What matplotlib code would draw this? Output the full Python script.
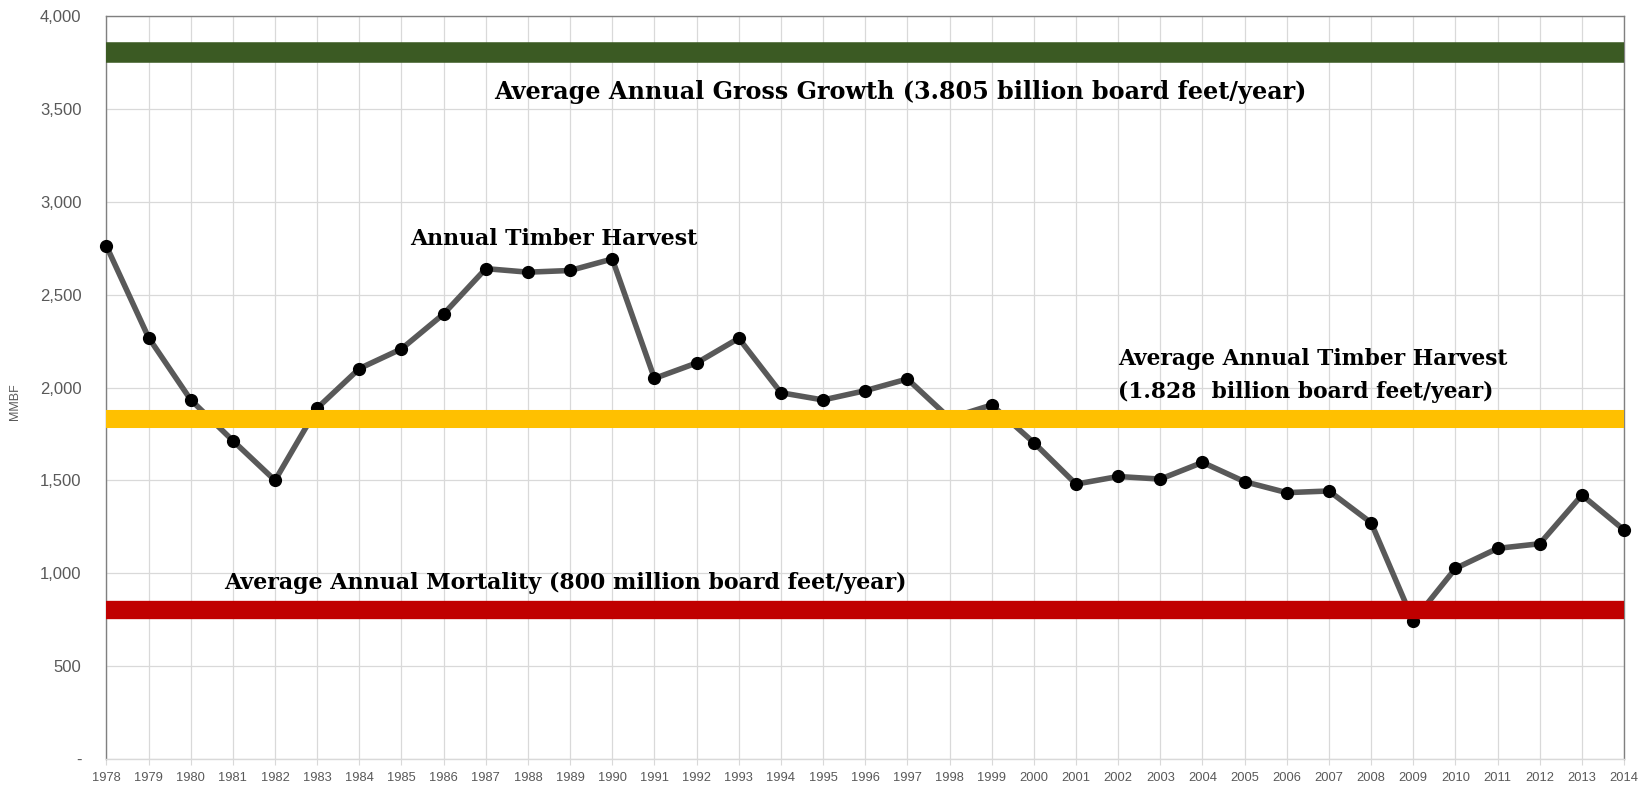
## annual timber harvest vs average growth / mortality / harvest
import numpy as np
import matplotlib
matplotlib.use('Agg')
import matplotlib.pyplot as plt

years = list(range(1978, 2015))
harvest = [2762, 2269, 1934, 1714, 1500, 1889, 2102, 2208, 2396, 2640,
           2621, 2630, 2692, 2049, 2132, 2265, 1972, 1933, 1983, 2046,
           1835, 1906, 1703, 1480, 1521, 1507, 1597, 1493, 1434, 1443,
           1272, 743, 1026, 1134, 1159, 1421, 1233]

avg_growth = 3805
avg_harvest = 1828
avg_mortality = 800

yticks = [0, 500, 1000, 1500, 2000, 2500, 3000, 3500, 4000]
ytick_labels = ['-', '500', '1,000', '1,500', '2,000', '2,500', '3,000', '3,500', '4,000']

txt_gray = '#595959'
grid_gray = '#d9d9d9'

fig = plt.figure(figsize=(16.52, 7.89), dpi=100)
ax = fig.add_axes([0.0644, 0.038, 0.9187, 0.9417])

ax.plot(years, harvest, color='#595959', lw=4, marker='o', ms=8.5,
        mfc='black', mec='black', zorder=3, clip_on=False)

# average bands sit on top of the series
ax.axhline(avg_growth, color='#3b5a23', lw=14.8, zorder=4)
ax.axhline(avg_harvest, color='#ffc000', lw=13, zorder=4)
ax.axhline(avg_mortality, color='#c00000', lw=13.2, zorder=4)

ax.set_xlim(1978, 2014)
ax.set_ylim(0, 4000)
ax.set_xticks(years)
ax.set_xticklabels([str(y) for y in years], fontsize=9.3, color=txt_gray,
                   family='Liberation Sans')
ax.set_yticks(yticks)
ax.set_yticklabels(ytick_labels, fontsize=12, color=txt_gray,
                   family='Liberation Sans')
ax.tick_params(axis='y', length=0, pad=18)
ax.tick_params(axis='x', length=4, pad=5, color=grid_gray)

ax.grid(True, color=grid_gray, lw=0.9, zorder=0)
ax.set_axisbelow(True)
for s in ['top', 'right', 'left']:
    ax.spines[s].set_color('#808080')
    ax.spines[s].set_linewidth(1)
ax.spines['bottom'].set_color(grid_gray)
ax.spines['bottom'].set_linewidth(1)

fig.text(15 / 1652, 1 - 402 / 789, 'MMBF', rotation=90, fontsize=9,
         color=txt_gray, ha='center', va='center', family='Liberation Sans')

lab = dict(family='DejaVu Serif', fontweight='bold', color='black', zorder=5)
ax.text(1987.2, 3592, 'Average Annual Gross Growth (3.805 billion board feet/year)',
        ha='left', va='center', fontsize=17.2, **lab)
ax.text(1985.2, 2800, 'Annual Timber Harvest', ha='left', va='center',
        fontsize=15.8, **lab)
ax.text(2002.0, 2153, 'Average Annual Timber Harvest', ha='left', va='center',
        fontsize=15.7, **lab)
ax.text(2002.0, 1976, '(1.828  billion board feet/year)', ha='left', va='center',
        fontsize=15.7, **lab)
ax.text(1980.8, 949, 'Average Annual Mortality (800 million board feet/year)',
        ha='left', va='center', fontsize=15.9, **lab)

plt.savefig('out.png', dpi=100)
